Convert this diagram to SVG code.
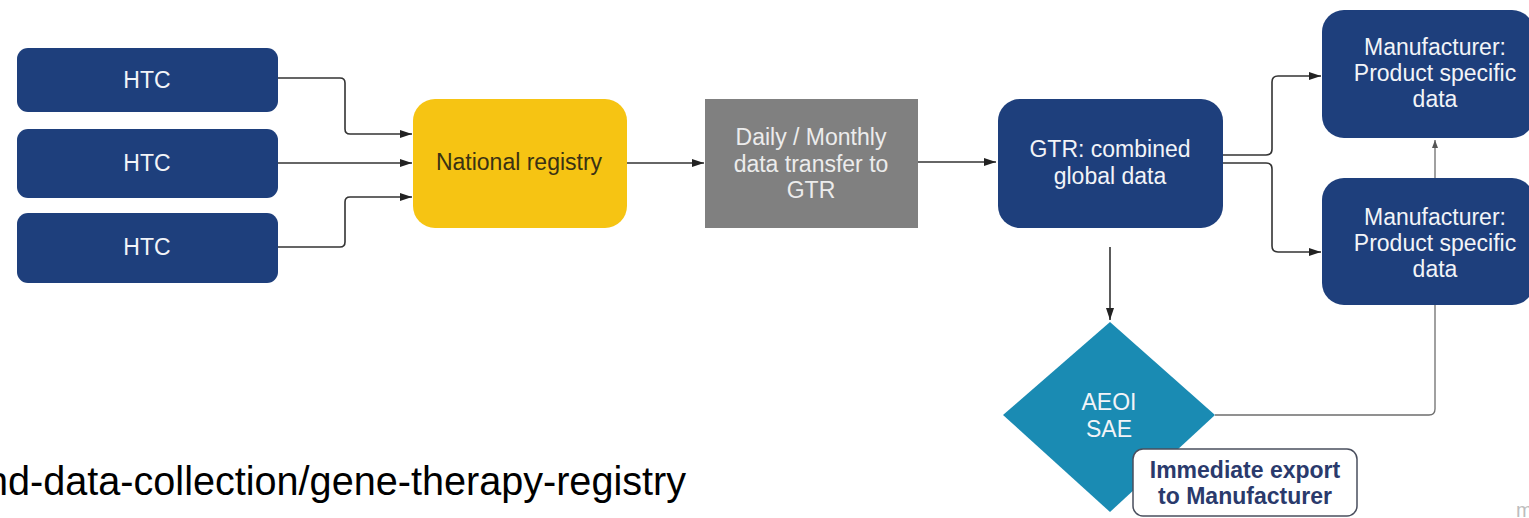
<svg xmlns="http://www.w3.org/2000/svg" width="1529" height="518" viewBox="0 0 1529 518">
  <defs>
    <style>
      .lbl { font-family: "Liberation Sans", Arial, sans-serif; font-size: 23px; text-anchor: middle; }
      .navy { fill: #1e3f7c; }
      .white { fill: #f2f4f8; }
      .conn { fill: none; stroke: #333333; stroke-width: 1.6; }
      .conn-light { fill: none; stroke: #6e6e6e; stroke-width: 1.3; }
    </style>
    <marker id="arrow" markerUnits="userSpaceOnUse" markerWidth="12" markerHeight="8" refX="12" refY="4" orient="auto">
      <path d="M0,0 L12,4 L0,8 z" fill="#222222"/>
    </marker>
    <marker id="arrow-small" markerUnits="userSpaceOnUse" markerWidth="8" markerHeight="6" refX="8" refY="3" orient="auto">
      <path d="M0,0 L8,3 L0,6 z" fill="#555555"/>
    </marker>
  </defs>

  <rect width="1529" height="518" fill="#ffffff"/>

  <!-- connectors -->
  <g id="connectors">
    <path class="conn" d="M278,78 H340 Q345,78 345,83 V129 Q345,134 350,134 H412" marker-end="url(#arrow)"/>
    <path class="conn" d="M278,163 H412" marker-end="url(#arrow)"/>
    <path class="conn" d="M278,247 H340 Q345,247 345,242 V202 Q345,197 350,197 H412" marker-end="url(#arrow)"/>
    <path class="conn" d="M627,163 H704" marker-end="url(#arrow)"/>
    <path class="conn" d="M918,162 H996" marker-end="url(#arrow)"/>
    <path class="conn" d="M1223,155 H1266 Q1272,155 1272,149 V82 Q1272,76 1278,76 H1321" marker-end="url(#arrow)"/>
    <path class="conn" d="M1223,163 H1266 Q1272,163 1272,169 V246 Q1272,252 1278,252 H1321" marker-end="url(#arrow)"/>
    <path class="conn" d="M1110,247 V320" marker-end="url(#arrow)"/>
    <path class="conn-light" d="M1215,415 H1429 Q1435,415 1435,409 V140" marker-end="url(#arrow-small)"/>
  </g>

  <!-- HTC sources -->
  <g id="htc-1">
    <rect class="navy" x="17" y="48" width="261" height="64" rx="11"/>
    <text class="lbl white" x="147" y="88">HTC</text>
  </g>
  <g id="htc-2">
    <rect class="navy" x="17" y="129" width="261" height="69" rx="11"/>
    <text class="lbl white" x="147" y="171">HTC</text>
  </g>
  <g id="htc-3">
    <rect class="navy" x="17" y="213" width="261" height="70" rx="11"/>
    <text class="lbl white" x="147" y="255">HTC</text>
  </g>

  <!-- national registry -->
  <g id="national-registry">
    <rect x="413" y="99" width="214" height="129" rx="22" fill="#f6c413"/>
    <text class="lbl" x="519" y="170" fill="#3a3214">National registry</text>
  </g>

  <!-- transfer step -->
  <g id="data-transfer">
    <rect x="705" y="99" width="213" height="129" fill="#808080"/>
    <text class="lbl" x="811" y="145" fill="#ececec">Daily / Monthly</text>
    <text class="lbl" x="811" y="172" fill="#ececec">data transfer to</text>
    <text class="lbl" x="811" y="198" fill="#ececec">GTR</text>
  </g>

  <!-- global registry -->
  <g id="gtr">
    <rect class="navy" x="998" y="99" width="225" height="129" rx="22"/>
    <text class="lbl white" x="1110" y="157">GTR: combined</text>
    <text class="lbl white" x="1110" y="184">global data</text>
  </g>

  <!-- manufacturers -->
  <g id="manufacturer-1">
    <rect class="navy" x="1322" y="10" width="212" height="128" rx="22"/>
    <text class="lbl white" x="1435" y="55">Manufacturer:</text>
    <text class="lbl white" x="1435" y="81">Product specific</text>
    <text class="lbl white" x="1435" y="107">data</text>
  </g>
  <g id="manufacturer-2">
    <rect class="navy" x="1322" y="178" width="212" height="127" rx="22"/>
    <text class="lbl white" x="1435" y="225">Manufacturer:</text>
    <text class="lbl white" x="1435" y="251">Product specific</text>
    <text class="lbl white" x="1435" y="277">data</text>
  </g>

  <!-- adverse event decision -->
  <g id="aeoi-sae">
    <polygon points="1110,322 1215,415 1110,512 1003,415" fill="#1a8bb3"/>
    <text class="lbl white" x="1109" y="410">AEOI</text>
    <text class="lbl white" x="1109" y="437">SAE</text>
  </g>

  <!-- export note -->
  <g id="immediate-export">
    <rect x="1133" y="449" width="224" height="67" rx="10" fill="#ffffff" stroke="#4a4f5e" stroke-width="1.5"/>
    <text class="lbl" x="1245" y="478" font-weight="bold" fill="#2a3a6c">Immediate export</text>
    <text class="lbl" x="1245" y="504" font-weight="bold" fill="#2a3a6c">to Manufacturer</text>
  </g>

  <!-- source link fragment -->
  <text x="-14" y="495" font-family="'Liberation Sans', Arial, sans-serif" font-size="40" textLength="700" lengthAdjust="spacingAndGlyphs" fill="#000000">nd-data-collection/gene-therapy-registry</text>

  <!-- corner mark -->
  <text x="1516" y="517" font-family="'Liberation Sans', Arial, sans-serif" font-size="20" fill="#bdbdbd">m</text>
</svg>
